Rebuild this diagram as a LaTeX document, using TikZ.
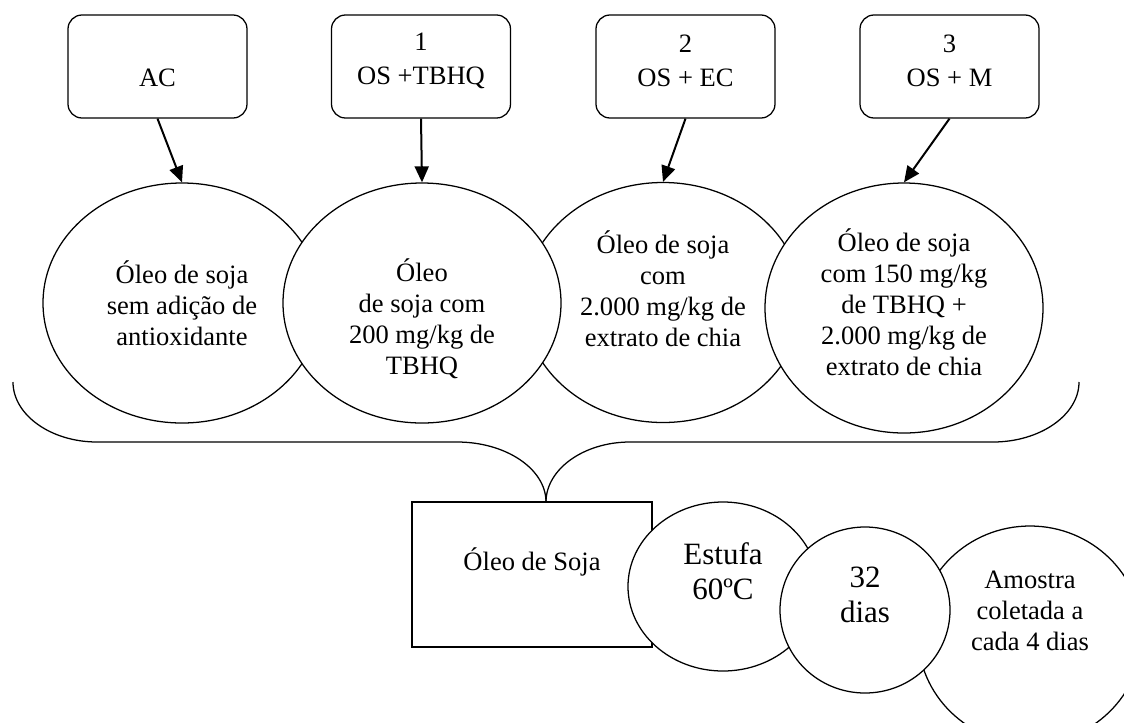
\documentclass[tikz,border=0pt]{standalone}
\usepackage{fontspec}
\setmainfont{Liberation Serif}
\usetikzlibrary{shapes.geometric,arrows.meta}
\tikzset{
  box/.style={draw, rounded corners=10.5pt, minimum width=134.25pt, minimum height=77.25pt, line width=0.95pt, inner sep=0pt},
  oval/.style={draw, ellipse, fill=white, line width=0.95pt, inner sep=0pt},
  rectbox/.style={draw, fill=white, line width=0.95pt, inner sep=0pt, minimum width=180pt, minimum height=108.75pt},
  arr/.style={-{Triangle[length=12pt,width=10.5pt]}, line width=1.5pt},
  txt/.style={align=center, inner sep=0pt, font=\fontsize{19.9}{23.25}\selectfont},
  boxtxt/.style={align=center, inner sep=0pt, font=\fontsize{19.9}{25.5}\selectfont},
  bigtxt/.style={align=center, inner sep=0pt, font=\fontsize{23.25}{26.25}\selectfont},
  brace/.style={line width=0.95pt}
}
\begin{document}
\begin{tikzpicture}[x=0.75pt,y=-0.75pt]
\clip (0,0) rectangle (1124,722);
\fill[white] (0,0) rectangle (1124,722);

% top boxes
\node[box] (b0) at (157.5,66.5) {};
\node[box] (b1) at (421,66.5) {};
\node[box] (b2) at (685.5,66.5) {};
\node[box] (b3) at (949.5,66.5) {};
\node[boxtxt] (l0) at (157.5,78) {AC};
\node[boxtxt] (l1) at (421,61) {1\\OS +TBHQ};
\node[boxtxt] (l2) at (685.5,61) {2\\OS + EC};
\node[boxtxt] (l3) at (949.5,61) {3\\OS + M};

% ellipses (drawing order 1,3,2,4)
\node[oval, minimum width=208.5pt, minimum height=180pt] (e1) at (182,303) {};
\node[oval, minimum width=208.5pt, minimum height=180pt] (e3) at (663,302.5) {};
\node[oval, minimum width=208.5pt, minimum height=180pt] (e2) at (422,303) {};
\node[oval, minimum width=208.5pt, minimum height=187.5pt] (e4) at (904,308) {};

\node[txt] (t1) at (182,303) {Óleo de soja\\sem adição de\\antioxidante};
\node[txt] (t2) at (422,318.5) {Óleo\\de soja com\\200 mg/kg de\\TBHQ};
\node[txt] (t3) at (663,288.5) {Óleo de soja\\com\\2.000 mg/kg de\\extrato de chia};
\node[txt] (t4) at (904,302.5) {Óleo de soja\\com 150 mg/kg\\de TBHQ +\\2.000 mg/kg de\\extrato de chia};

% arrows
\draw[arr] (b0.south) -- (e1.north);
\draw[arr] (b1.south) -- (e2.north);
\draw[arr] (b2.south) -- (e3.north);
\draw[arr] (b3.south) -- (e4.north);

% bottom row
\node[rectbox] (r) at (532,574.5) {};
\node[oval, minimum width=142.5pt, minimum height=126.75pt] (s1) at (723,586.5) {};
\node[oval, minimum width=168pt, minimum height=163.5pt] (s3) at (1030,635) {};
\node[oval, minimum width=127.5pt, minimum height=124.5pt] (s2) at (865,610) {};

\node[txt] (rt) at (532,562) {Óleo de Soja};
\node[bigtxt] (st1) at (723,571.5) {Estufa\\60ºC};
\node[bigtxt] (st2) at (865,595) {32\\dias};
\node[txt] (st3) at (1030,611) {Amostra\\coletada a\\cada 4 dias};

% brace
\coordinate (bl) at (13,382);
\coordinate (br) at (1079,382);
\coordinate (tip) at (546,502);
\draw[brace] (bl) .. controls (13,415) and (51,442) .. (97,442) -- (457,442)
  .. controls (506,442) and (546,469) .. (tip);
\draw[brace] (tip) .. controls (546,469) and (584,442) .. (630,442) -- (993,442)
  .. controls (1040,442) and (1079,415) .. (br);
\end{tikzpicture}
\end{document}
